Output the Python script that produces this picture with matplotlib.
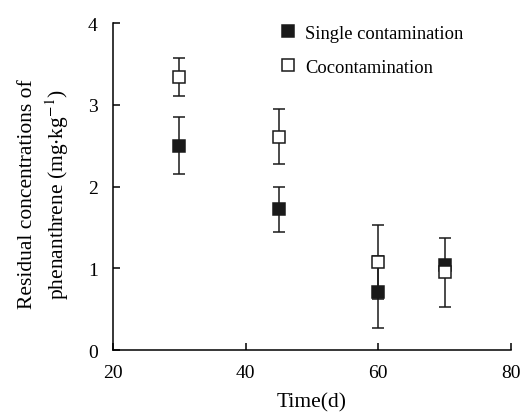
import matplotlib
matplotlib.use("Agg")
import matplotlib.pyplot as plt
from matplotlib.lines import Line2D

plt.rcParams['font.family'] = ['Liberation Serif', 'DejaVu Serif']
plt.rcParams['mathtext.fontset'] = 'stix'

# data
days = [30, 45, 60, 70]
single = [2.50, 1.72, 0.71, 1.04]
single_err = [0.35, 0.28, 0.44, 0.05]
coconta = [3.34, 2.61, 1.08, 0.95]
coconta_err = [0.23, 0.34, 0.45, 0.42]

fig = plt.figure(figsize=(5.23, 4.14), dpi=100)
ax = fig.add_axes([0.216, 0.152, 0.761, 0.79])

ax.errorbar(days, single, yerr=single_err, fmt='s', color='#1a1a1a',
            mfc='#1a1a1a', mec='#1a1a1a', ms=8.5, mew=1.1,
            elinewidth=1.1, capsize=4, capthick=1.1, zorder=3)
ax.errorbar(days, coconta, yerr=coconta_err, fmt='s', color='#1a1a1a',
            mfc='white', mec='#1a1a1a', ms=8.5, mew=1.1,
            elinewidth=1.1, capsize=4, capthick=1.1, zorder=4)

ax.set_xlim(20, 80)
ax.set_ylim(0, 4)
ax.set_xticks([20, 40, 60, 80])
ax.set_yticks([0, 1, 2, 3, 4])
for s in ['top', 'right']:
    ax.spines[s].set_visible(False)
for s in ['left', 'bottom']:
    ax.spines[s].set_linewidth(1.1)
ax.tick_params(direction='in', length=5, width=1.1, labelsize=14)
ax.tick_params(axis='x', pad=10)
ax.tick_params(axis='y', pad=11)

ax.set_xlabel('Time(d)', fontsize=15.5, labelpad=8)
ax.set_ylabel('Residual concentrations of\nphenanthrene (mg$\\cdot$kg$^{-1}$)',
              fontsize=15.5, linespacing=1.32)
ax.yaxis.set_label_coords(-0.105, 0.48)

handles = [
    Line2D([], [], ls='none', marker='s', ms=8, mfc='#1a1a1a', mec='#1a1a1a', mew=1.1),
    Line2D([], [], ls='none', marker='s', ms=8, mfc='white', mec='#1a1a1a', mew=1.1),
]
ax.legend(handles, ['Single contamination', 'Cocontamination'],
          loc='upper left', bbox_to_anchor=(0.38, 1.045), frameon=False,
          fontsize=13.3, handlelength=0.8, handletextpad=0.5, labelspacing=0.9)

fig.savefig('out.png', dpi=100)
